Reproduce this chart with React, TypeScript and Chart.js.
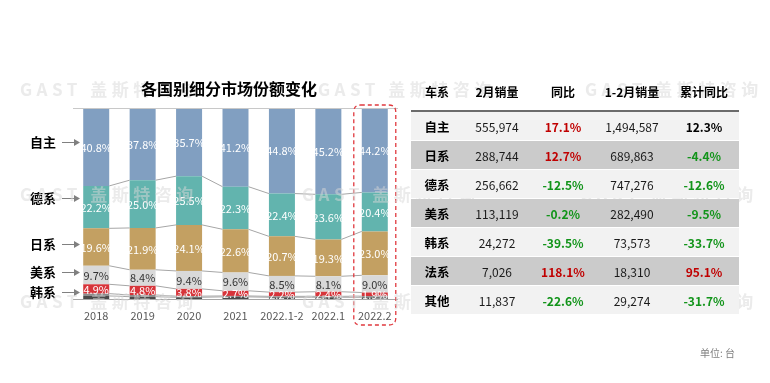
import React, { useEffect, useRef } from "react";
import { Chart, registerables } from "chart.js";

Chart.register(...registerables);

const categories = ["2018", "2019", "2020", "2021", "2022.1-2", "2022.1", "2022.2"];
const zizhu = [40.8, 37.8, 35.7, 41.2, 44.8, 45.2, 44.2];
const dexi = [22.2, 25.0, 25.5, 22.3, 22.4, 23.6, 20.4];
const rixi = [19.6, 21.9, 24.1, 22.6, 20.7, 19.3, 23.0];
const meixi = [9.7, 8.4, 9.4, 9.6, 8.5, 8.1, 9.0];
const hanxi = [4.9, 4.8, 3.8, 2.7, 2.2, 2.4, 1.9];
const faxi = [1.2, 0.9, 0.6, 0.5, 0.5, 0.5, 0.6];
const qita = [1.6, 1.2, 0.9, 1.1, 0.9, 0.9, 0.9];

const tableHeaders = ["车系", "2月销量", "同比", "1-2月销量", "累计同比"];
const tableNames = ["自主", "日系", "德系", "美系", "韩系", "法系", "其他"];
const febSales = [555974, 288744, 256662, 113119, 24272, 7026, 11837];
const febYoY = [17.1, 12.7, -12.5, -0.2, -39.5, 118.1, -22.6];
const ytdSales = [1494587, 689863, 747276, 282490, 73573, 18310, 29274];
const ytdYoY = [12.3, -4.4, -12.6, -9.5, -33.7, 95.1, -31.7];

const FONT = '"Noto Sans CJK SC", "Noto Sans", sans-serif';
const WATERMARK = "GAST 盖斯特咨询";

const seriesDefs = [
  { label: "其他", data: qita, color: "#4a4a4a", text: null },
  { label: "法系", data: faxi, color: "#8c8c8c", text: null },
  { label: "韩系", data: hanxi, color: "#d7343a", text: "#ffffff" },
  { label: "美系", data: meixi, color: "#d9d9d9", text: "#333333" },
  { label: "日系", data: rixi, color: "#c3a062", text: "#ffffff" },
  { label: "德系", data: dexi, color: "#62b4ae", text: "#ffffff" },
  { label: "自主", data: zizhu, color: "#819fc1", text: "#ffffff" },
];

const sideLabels = [
  { text: "自主", y: 142 },
  { text: "德系", y: 198 },
  { text: "日系", y: 244 },
  { text: "美系", y: 272 },
  { text: "韩系", y: 292 },
];

const overlayPlugin = {
  id: "overlay",
  afterDatasetsDraw(chart: any) {
    const ctx = chart.ctx;
    const x = chart.scales.x;
    const y = chart.scales.y;
    const area = chart.chartArea;
    ctx.save();
    ctx.strokeStyle = "#c8c8c8";
    ctx.lineWidth = 1;
    ctx.beginPath();
    ctx.moveTo(area.left, Math.round(y.getPixelForValue(100)) + 0.5);
    ctx.lineTo(area.right, Math.round(y.getPixelForValue(100)) + 0.5);
    ctx.stroke();
    ctx.strokeStyle = "#a6a6a6";
    ctx.beginPath();
    ctx.moveTo(area.left, Math.round(y.getPixelForValue(0)) + 0.5);
    ctx.lineTo(area.right, Math.round(y.getPixelForValue(0)) + 0.5);
    ctx.stroke();

    const metas = chart.data.datasets.map((_: any, i: number) => chart.getDatasetMeta(i));
    ctx.strokeStyle = "#a6a6a6";
    ctx.lineWidth = 1;
    for (let c = 0; c < categories.length - 1; c++) {
      let cum0 = 0;
      let cum1 = 0;
      for (let s = 0; s < seriesDefs.length - 1; s++) {
        cum0 += seriesDefs[s].data[c];
        cum1 += seriesDefs[s].data[c + 1];
        const b0: any = metas[0].data[c];
        const b1: any = metas[0].data[c + 1];
        const x0 = b0.x + b0.width / 2;
        const x1 = b1.x - b1.width / 2;
        ctx.beginPath();
        ctx.moveTo(x0, y.getPixelForValue(cum0));
        ctx.lineTo(x1, y.getPixelForValue(cum1));
        ctx.stroke();
      }
    }

    ctx.font = `11px ${FONT}`;
    ctx.textAlign = "center";
    ctx.textBaseline = "middle";
    seriesDefs.forEach((sd, si) => {
      if (!sd.text) return;
      metas[si].data.forEach((bar: any, i: number) => {
        const cy = (bar.y + bar.base) / 2;
        ctx.fillStyle = sd.text;
        ctx.fillText(sd.data[i].toFixed(1) + "%", bar.x, cy + 0.5);
      });
    });

    ctx.font = `bold 13px ${FONT}`;
    ctx.textAlign = "center";
    sideLabels.forEach((l) => {
      ctx.fillStyle = "#000000";
      ctx.fillText(l.text, 43, l.y);
      ctx.strokeStyle = "#808080";
      ctx.lineWidth = 1;
      ctx.beginPath();
      ctx.moveTo(62, l.y + 0.5);
      ctx.lineTo(75, l.y + 0.5);
      ctx.stroke();
      ctx.fillStyle = "#808080";
      ctx.beginPath();
      ctx.moveTo(80, l.y + 0.5);
      ctx.lineTo(74, l.y - 3);
      ctx.lineTo(74, l.y + 4);
      ctx.closePath();
      ctx.fill();
    });

    const lastX = x.getPixelForValue(categories.length - 1);
    const left = lastX - 21;
    const right = lastX + 21;
    const top = 105;
    const bottom = 325;
    const r = 7;
    ctx.strokeStyle = "#e0393e";
    ctx.lineWidth = 1.3;
    ctx.setLineDash([4, 3]);
    ctx.beginPath();
    ctx.moveTo(left + r, top);
    ctx.lineTo(right - r, top);
    ctx.quadraticCurveTo(right, top, right, top + r);
    ctx.lineTo(right, bottom - r);
    ctx.quadraticCurveTo(right, bottom, right - r, bottom);
    ctx.lineTo(left + r, bottom);
    ctx.quadraticCurveTo(left, bottom, left, bottom - r);
    ctx.lineTo(left, top + r);
    ctx.quadraticCurveTo(left, top, left + r, top);
    ctx.stroke();
    ctx.setLineDash([]);
    ctx.restore();
  },
};

function ChartPanel() {
  const ref = useRef<HTMLCanvasElement | null>(null);
  useEffect(() => {
    if (!ref.current) return;
    const chart = new Chart(ref.current, {
      type: "bar",
      data: {
        labels: categories,
        datasets: seriesDefs.map((sd) => ({
          label: sd.label,
          data: sd.data,
          backgroundColor: sd.color,
          borderWidth: 0,
          categoryPercentage: 1,
          barPercentage: 0.56,
        })),
      },
      options: {
        animation: false,
        responsive: true,
        maintainAspectRatio: false,
        layout: { padding: { left: 73, right: 22, top: 108, bottom: 54 } },
        plugins: {
          legend: { display: false },
          tooltip: { enabled: false },
          title: { display: false },
        },
        scales: {
          x: {
            stacked: true,
            grid: { display: false, drawTicks: false },
            border: { display: false },
            ticks: {
              color: "#595959",
              font: { size: 11, family: FONT },
              padding: 10,
              maxRotation: 0,
              autoSkip: false,
            },
            afterFit: (scale: any) => {
              scale.height = 30;
            },
          },
          y: {
            stacked: true,
            display: false,
            min: 0,
            max: 100,
          },
        },
      },
      plugins: [overlayPlugin],
    });
    return () => chart.destroy();
  }, []);
  return (
    <div style={{ position: "absolute", left: 0, top: 0, width: 420, height: 383 }}>
      <canvas ref={ref} />
    </div>
  );
}

const colWidths = [52, 68, 64, 74, 70];

function pctColor(v: number, black: boolean) {
  if (black) return "#000000";
  return v >= 0 ? "#c00000" : "#12941a";
}

function Table() {
  const cell = (content: any, w: number, style: any = {}, key?: string) => (
    <div key={key} style={{ width: w, textAlign: "center", ...style }}>
      {content}
    </div>
  );
  return (
    <div style={{ position: "absolute", left: 411, top: 72, width: 328, fontFamily: FONT }}>
      <div style={{ display: "flex", height: 38, alignItems: "center", fontWeight: "bold", fontSize: 12, color: "#000" }}>
        {tableHeaders.map((h, i) => cell(h, colWidths[i], {}, h))}
      </div>
      <div style={{ height: 2, background: "#6b6b6b" }} />
      {tableNames.map((n, r) => (
        <div
          key={n}
          style={{
            display: "flex",
            height: 28,
            marginBottom: 1,
            alignItems: "center",
            background: r % 2 === 0 ? "#f2f2f2" : "#cbcbcb",
            fontSize: 12,
            color: "#1a1a1a",
          }}
        >
          {cell(n, colWidths[0], { fontWeight: "bold", color: "#000", fontSize: 12.5 })}
          {cell(febSales[r].toLocaleString("en-US"), colWidths[1])}
          {cell(febYoY[r].toFixed(1) + "%", colWidths[2], { fontWeight: "bold", color: pctColor(febYoY[r], false) })}
          {cell(ytdSales[r].toLocaleString("en-US"), colWidths[3])}
          {cell(ytdYoY[r].toFixed(1) + "%", colWidths[4], { fontWeight: "bold", color: pctColor(ytdYoY[r], r === 0) })}
        </div>
      ))}
    </div>
  );
}

const watermarkSpots = [
  [20, 88], [318, 88], [585, 88],
  [20, 193], [302, 193], [580, 193],
  [20, 300], [302, 300], [580, 300],
];

export default function App() {
  return (
    <div style={{ position: "fixed", left: 0, top: 0, width: 770, height: 383, background: "#fff", overflow: "hidden" }}>
      <ChartPanel />
      {watermarkSpots.map(([x, y], i) => (
        <div
          key={i}
          style={{
            position: "absolute",
            left: x,
            top: y,
            transform: "translateY(-50%)",
            fontFamily: FONT,
            fontWeight: "bold",
            fontSize: 17,
            letterSpacing: 4.5,
            color: "rgba(215,215,215,0.5)",
            whiteSpace: "nowrap",
            pointerEvents: "none",
          }}
        >
          {WATERMARK}
        </div>
      ))}
      <div
        style={{
          position: "absolute",
          left: 229,
          top: 88,
          transform: "translate(-50%, -50%)",
          fontFamily: FONT,
          fontWeight: "bold",
          fontSize: 16,
          color: "#000",
          whiteSpace: "nowrap",
        }}
      >
        各国别细分市场份额变化
      </div>
      <div style={{ position: "absolute", left: 0, top: 0, width: 770, height: 383, pointerEvents: "none" }}>
        <Table />
        <div
          style={{
            position: "absolute",
            left: 700,
            top: 345,
            fontFamily: FONT,
            fontSize: 10,
            color: "#808080",
          }}
        >
          单位: 台
        </div>
      </div>
    </div>
  );
}
